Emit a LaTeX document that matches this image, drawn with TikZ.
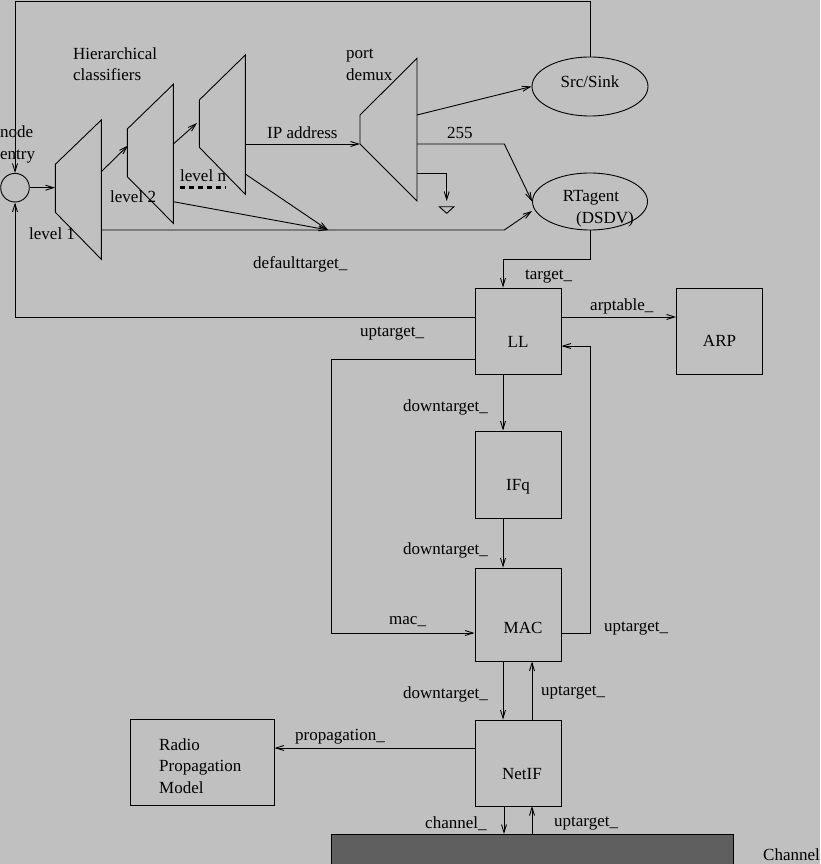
\documentclass[tikz,border=0pt]{standalone}
\usepackage{fontspec}
\setmainfont{Liberation Serif}
\usetikzlibrary{arrows.meta,shapes.geometric}
\definecolor{bg}{HTML}{C0C0C0}
\definecolor{barc}{HTML}{5F5F5F}
\begin{document}
\begin{tikzpicture}[x=1pt,y=-1pt,
  every node/.style={font=\fontsize{17pt}{20pt}\selectfont, inner sep=0pt},
  ln/.style={line width=0.9pt},
  arr/.style={ln,-{Straight Barb[length=8pt,width=5pt]}},
  boxn/.style={draw,ln,minimum width=86pt,minimum height=86pt},
  lbl/.style={anchor=west},
  ell/.style={draw,ln,ellipse}]
\fill[bg] (0,0) rectangle (820,864);
\useasboundingbox (0,0) rectangle (820,864);

% classifiers (trapezoids)
\draw[ln] (55.3,164.3) -- (101.3,120) -- (101.3,259.3) -- (55.3,212.3) -- cycle;
\draw[ln] (127.3,129) -- (173.3,84.3) -- (173.3,223.3) -- (127.3,176.7) -- cycle;
\draw[ln] (199.3,100) -- (245.3,55) -- (245.3,194.3) -- (199.3,147.3) -- cycle;
\draw[ln] (360,115) -- (417,58.3) -- (417,201) -- (360,144) -- cycle;

% entry circle
\node[draw,ln,circle,minimum size=28.6pt] (entry) at (15,187.7) {};

% ellipses
\node[ell,minimum width=116pt,minimum height=59pt] (src) at (590,86.5) {};
\node (srct) at (590,82) {Src/Sink};
\node[ell,minimum width=115pt,minimum height=57pt] (rt) at (590,201.5) {};
\node (rtt1) at (591,198) {RTagent};
\node (rtt2) at (605,219) {(DSDV)};

% boxes
\node[boxn] (LL) at (518,331) {};
\node at ([yshift=-11pt]LL.center) {LL};
\node[boxn] (ARP) at (719.5,331) {};
\node at ([yshift=-10pt]ARP.center) {ARP};
\node[boxn,minimum height=87pt] (IFq) at (518,474.5) {};
\node at ([yshift=-12pt]IFq.center) {IFq};
\node[boxn,minimum height=93pt] (MAC) at (518,614.5) {};
\node at ([yshift=-13pt,xshift=5pt]MAC.center) {MAC};
\node[boxn] (NetIF) at (518,763) {};
\node at ([yshift=-11pt,xshift=4pt]NetIF.center) {NetIF};
\node[boxn,minimum width=144pt] (radio) at (202,762) {};
\node[anchor=west,align=left,font=\fontsize{17pt}{21.5pt}\selectfont] at (159,766) {Radio\\Propagation\\Model};
\node[draw,ln,fill=barc,minimum width=402pt,minimum height=34pt,anchor=north west] (bar) at (331,834) {};
\node[lbl] at (763,855) {Channel};

% texts
\node[lbl,align=left,font=\fontsize{17pt}{21pt}\selectfont] at (73,64) {Hierarchical\\classifiers};
\node[lbl,align=left,font=\fontsize{17pt}{22pt}\selectfont] at (0,144) {node\\entry};
\node[lbl] at (29,234) {level 1};
\node[lbl] at (110,197) {level 2};
\node[lbl] at (180,176) {level n};
\draw[line width=2.6pt,dash pattern=on 5pt off 4pt] (180,187.3) -- (226,187.3);
\node[lbl] at (267,133) {IP address};
\node[lbl,align=left,font=\fontsize{17pt}{22pt}\selectfont] at (346,65) {port\\demux};
\node[lbl] at (447,133) {255};
\node[lbl] at (253,264) {defaulttarget\_};
\node[lbl] at (525,277) {target\_};
\node[lbl] at (590,306) {arptable\_};
\node[lbl] at (360,334) {uptarget\_};
\node[lbl] at (403,407) {downtarget\_};
\node[lbl] at (403,550) {downtarget\_};
\node[lbl] at (389,622) {mac\_};
\node[lbl] at (604,629) {uptarget\_};
\node[lbl] at (403,694) {downtarget\_};
\node[lbl] at (541,693) {uptarget\_};
\node[lbl] at (295,737) {propagation\_};
\node[lbl] at (425,824) {channel\_};
\node[lbl] at (554,824) {uptarget\_};

% feedback loops
\coordinate (lp) at (15,317);
\coordinate (tp) at (590,1);
\draw[arr] (LL.west |- lp) -- (lp) -- (entry.south);
\draw[arr] (src.north) -- (tp) -- (15,1) -- (entry.north);

% classifier arrows
\draw[arr] (entry.east) -- (55,187.7);
\draw[arr] (101.3,171.7) -- (128,145.5);
\draw[arr] (173.3,144) -- (197,123);
\draw[arr] (245.3,144) -- (360,144);
\coordinate (dt) at (328,230);
\draw[arr] (173.3,201.7) -- (dt);
\draw[arr] (245.3,174) -- (dt);
\draw[arr] (101.3,230) -- (504.3,230) -- (rt.west |- 0,211) ;

% demux outputs
\draw[arr] (417,115) -- (src.west);
\draw[arr] (417,144) -- (504.3,144) -- (rt.west);
\draw[arr] (417,173) -- (446.7,173) -- (446.7,201);
\draw[ln] (439.3,206.7) -- (454,206.7) -- (446.7,213.3) -- cycle;

% stack
\coordinate (c1) at (503,259);
\draw[arr] (rt.south) -- (590,259) -- (c1) -- (c1 |- LL.north);
\draw[arr] (LL.east |- lp) -- (ARP.west |- lp);
\coordinate (m1) at (331.7,359);
\coordinate (m2) at (331.7,633);
\draw[arr] (LL.west |- m1) -- (m1) -- (m2) -- (MAC.west |- m2);
\coordinate (u1) at (590,633);
\coordinate (u2) at (590,346);
\draw[arr] (MAC.east |- u1) -- (u1) -- (u2) -- (LL.east |- u2);
\coordinate (dx) at (503,0);
\coordinate (ux) at (532,0);
\draw[arr] (dx |- LL.south) -- (dx |- IFq.north);
\draw[arr] (dx |- IFq.south) -- (dx |- MAC.north);
\draw[arr] (dx |- MAC.south) -- (dx |- NetIF.north);
\draw[arr] (ux |- NetIF.north) -- (ux |- MAC.south);
\coordinate (p1) at (0,748);
\draw[arr] (NetIF.west |- p1) -- (radio.east |- p1);
\draw[arr] (504,806) -- (504,834);
\draw[arr] (532,834) -- (532,806);
\end{tikzpicture}
\end{document}
